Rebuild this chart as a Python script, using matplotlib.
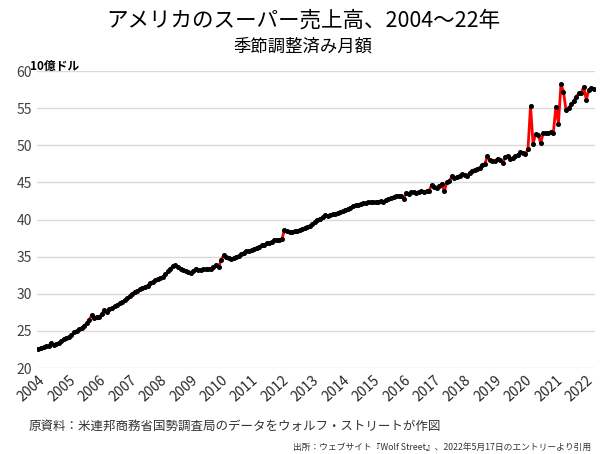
import numpy as np
import matplotlib
matplotlib.use("Agg")
import matplotlib.pyplot as plt

plt.rcParams['font.family'] = ['Noto Sans CJK JP', 'DejaVu Sans']

# monthly sales, seasonally adjusted (10億ドル), Jan 2004 - Apr 2022
s2004 = [22.6, 22.7, 22.8, 22.9, 23.0, 23.4, 23.1, 23.2, 23.4, 23.6, 23.9, 24.0]
s2005 = [24.2, 24.4, 24.8, 25.0, 25.2, 25.4, 25.7, 26.0, 26.5, 27.1, 26.8, 26.9]
s2006 = [26.9, 27.3, 27.8, 27.6, 27.9, 28.1, 28.3, 28.5, 28.7, 28.9, 29.1, 29.4]
s2007 = [29.7, 30.0, 30.3, 30.4, 30.6, 30.8, 30.9, 31.1, 31.4, 31.6, 31.8, 32.0]
s2008 = [32.1, 32.3, 32.6, 33.0, 33.4, 33.7, 33.9, 33.6, 33.4, 33.2, 33.0, 32.9]
s2009 = [32.8, 33.0, 33.4, 33.2, 33.2, 33.3, 33.3, 33.3, 33.4, 33.6, 33.9, 33.6]
s2010 = [34.5, 35.2, 34.9, 34.8, 34.7, 34.8, 34.9, 35.1, 35.3, 35.5, 35.7, 35.8]
s2011 = [35.9, 36.0, 36.2, 36.3, 36.5, 36.6, 36.8, 36.9, 37.0, 37.2, 37.3, 37.2]
s2012 = [37.4, 38.6, 38.5, 38.3, 38.3, 38.4, 38.5, 38.6, 38.7, 38.8, 39.0, 39.1]
s2013 = [39.4, 39.7, 40.0, 40.1, 40.3, 40.6, 40.5, 40.6, 40.7, 40.8, 40.9, 41.0]
s2014 = [41.1, 41.3, 41.4, 41.6, 41.8, 41.9, 42.0, 42.1, 42.2, 42.2, 42.3, 42.3]
s2015 = [42.3, 42.3, 42.4, 42.5, 42.4, 42.6, 42.7, 42.9, 43.0, 43.1, 43.2, 43.2]
s2016 = [42.8, 43.6, 43.5, 43.7, 43.7, 43.6, 43.7, 43.8, 43.7, 43.8, 43.9, 44.6]
s2017 = [44.4, 44.3, 44.5, 44.8, 43.8, 45.0, 45.2, 45.8, 45.6, 45.7, 45.9, 46.1]
s2018 = [46.0, 45.8, 46.3, 46.6, 46.7, 46.8, 47.0, 47.3, 47.5, 48.5, 48.0, 47.9]
s2019 = [47.9, 48.2, 48.0, 47.6, 48.4, 48.6, 48.1, 48.3, 48.5, 48.7, 49.1, 48.9]
s2020 = [48.8, 49.5, 55.3, 50.2, 51.5, 51.4, 50.3, 51.6, 51.7, 51.6, 51.8, 51.7]
s2021 = [55.2, 52.9, 58.2, 57.2, 54.7, 55.0, 55.5, 55.9, 56.5, 57.0, 57.1, 57.9]
s2022 = [56.1, 57.5, 57.7, 57.6]

sales = (s2004 + s2005 + s2006 + s2007 + s2008 + s2009 + s2010 + s2011 + s2012
         + s2013 + s2014 + s2015 + s2016 + s2017 + s2018 + s2019 + s2020 + s2021 + s2022)
years = list(range(2004, 2023))
yticks = [20, 25, 30, 35, 40, 45, 50, 55, 60]

fig = plt.figure(figsize=(6, 4.54), dpi=100)
ax = fig.add_axes([0.062, 0.1894, 0.93, 0.6542])

x = np.arange(len(sales))
ax.plot(x, sales, color='#ff0000', lw=2, marker='o', ms=2.6,
        mfc='black', mec='black', zorder=3)

ax.set_ylim(20, 60)
ax.set_xlim(-0.5, 219.5)
ax.set_yticks(yticks)
ax.set_xticks([12 * k for k in range(len(years))])
ax.set_xticklabels([str(y) for y in years], rotation=42, ha='right',
                   rotation_mode='anchor', fontsize=10, color='#262626')
ax.tick_params(axis='y', labelsize=10, colors='#404040', length=0, pad=4)
ax.tick_params(axis='x', length=0, pad=4)
ax.grid(axis='y', color='#d9d9d9', lw=1)
ax.set_axisbelow(True)
for sp in ax.spines.values():
    sp.set_visible(False)

fig.text(0.505, 0.955, 'アメリカのスーパー売上高、2004～22年', ha='center', va='center',
         fontsize=15.5, color='black')
fig.text(0.505, 0.898, '季節調整済み月額', ha='center', va='center', fontsize=12.5)
fig.text(0.05, 0.853, '10億ドル', ha='left', va='center', fontsize=8.5, fontweight='bold')
fig.text(0.047, 0.06, '原資料：米連邦商務省国勢調査局のデータをウォルフ・ストリートが作図',
         ha='left', va='center', fontsize=9, color='#333333')
fig.text(0.985, 0.015, '出所：ウェブサイト『Wolf Street』、2022年5月17日のエントリーより引用',
         ha='right', va='center', fontsize=6.3, color='#333333')

fig.savefig('out.png', dpi=100)
